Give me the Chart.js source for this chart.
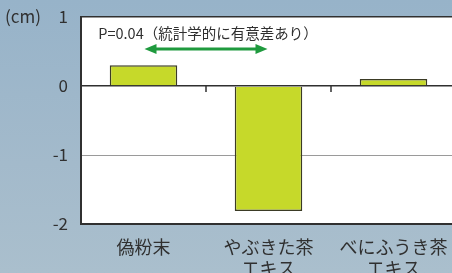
<!DOCTYPE html>
<html>
<head>
<meta charset="utf-8">
<script src="https://cdn.jsdelivr.net/npm/chart.js@4/dist/chart.umd.min.js"></script>
<style>
  html,body{margin:0;padding:0;overflow:hidden;}
  body{width:452px;height:273px;background:linear-gradient(180deg,#97b3c9 0%,#a3bacb 60%,#aabfcd 100%);}
  #wrap{width:456px;height:273px;}
</style>
</head>
<body>
<div id="wrap"><canvas id="c" width="456" height="273"></canvas></div>
<script>
const categories = [["偽粉末"], ["やぶきた茶", "エキス"], ["べにふうき茶", "エキス"]];
const values = [0.30, -1.81, 0.10];
const yTicks = [1, 0, -1, -2];
const noteText = "P=0.04（統計学的に有意差あり）";

const FONT = "'Noto Sans CJK JP', 'Noto Sans', sans-serif";
const INK = "#303030";

const plotBg = {
  id: "plotBg",
  beforeDraw(chart){
    const {ctx, chartArea:a} = chart;
    ctx.save();
    ctx.fillStyle = "#ffffff";
    ctx.fillRect(a.left, a.top, a.right - a.left, a.bottom - a.top);
    ctx.restore();
  },
  afterDraw(chart){
    const {ctx, scales} = chart;
    const x = scales.x, y = scales.y;
    const y0 = y.getPixelForValue(0);
    ctx.save();
    // small ticks between categories on the zero line
    ctx.strokeStyle = INK; ctx.lineWidth = 1.5;
    for(let i = 0; i < categories.length - 1; i++){
      const bx = (x.getPixelForValue(i) + x.getPixelForValue(i + 1)) / 2;
      ctx.beginPath(); ctx.moveTo(bx, y0); ctx.lineTo(bx, y0 + 6); ctx.stroke();
    }
    // unit label
    ctx.fillStyle = INK;
    ctx.font = "17px " + FONT;
    ctx.textBaseline = "middle";
    ctx.textAlign = "left";
    ctx.fillText("(cm)", 5, y.getPixelForValue(1));
    // significance note
    const mid = (x.getPixelForValue(0) + x.getPixelForValue(1)) / 2;
    ctx.font = "14.5px " + FONT;
    ctx.textAlign = "center";
    ctx.fillText(noteText, mid + 2, 33);
    // double arrow
    const x1 = x.getPixelForValue(0) + 1, x2 = x.getPixelForValue(1) - 1, ay = 49;
    ctx.strokeStyle = "#1f9a3e"; ctx.fillStyle = "#1f9a3e"; ctx.lineWidth = 3;
    ctx.beginPath(); ctx.moveTo(x1 + 8, ay); ctx.lineTo(x2 - 8, ay); ctx.stroke();
    ctx.beginPath(); ctx.moveTo(x1, ay); ctx.lineTo(x1 + 12, ay - 5); ctx.lineTo(x1 + 12, ay + 5); ctx.closePath(); ctx.fill();
    ctx.beginPath(); ctx.moveTo(x2, ay); ctx.lineTo(x2 - 12, ay - 5); ctx.lineTo(x2 - 12, ay + 5); ctx.closePath(); ctx.fill();
    ctx.restore();
  }
};

new Chart(document.getElementById("c"), {
  type: "bar",
  data: {
    labels: categories,
    datasets: [{
      data: values,
      backgroundColor: "#c6d92a",
      borderColor: "#3b3b25",
      borderWidth: 1.5,
      categoryPercentage: 1,
      barPercentage: 0.54
    }]
  },
  options: {
    responsive: false,
    animation: false,
    layout: { padding: { top: 17, right: 0, left: 0, bottom: 0 } },
    plugins: { legend: { display: false }, tooltip: { enabled: false } },
    scales: {
      x: {
        grid: { display: false },
        border: { display: true, color: INK, width: 2 },
        ticks: { color: INK, font: { family: FONT, size: 18, lineHeight: 1.2 }, padding: 4, maxRotation: 0, autoSkip: false },
        afterFit(s){ s.height = 49; s.paddingLeft = 0; s.paddingRight = 0; }
      },
      y: {
        min: -2, max: 1,
        afterBuildTicks(s){ s.ticks = yTicks.map(v => ({ value: v })); },
        grid: {
          drawTicks: false,
          color: c => c.tick.value === -1 ? "#9a9a9a" : INK,
          lineWidth: c => c.tick.value === -1 ? 1 : 1.5
        },
        border: { display: true, color: INK, width: 2 },
        ticks: { color: INK, font: { family: FONT, size: 17 }, padding: 13 },
        afterFit(s){ s.width = 81; s.paddingTop = 0; s.paddingBottom = 0; }
      }
    }
  },
  plugins: [plotBg]
});
</script>
</body>
</html>
